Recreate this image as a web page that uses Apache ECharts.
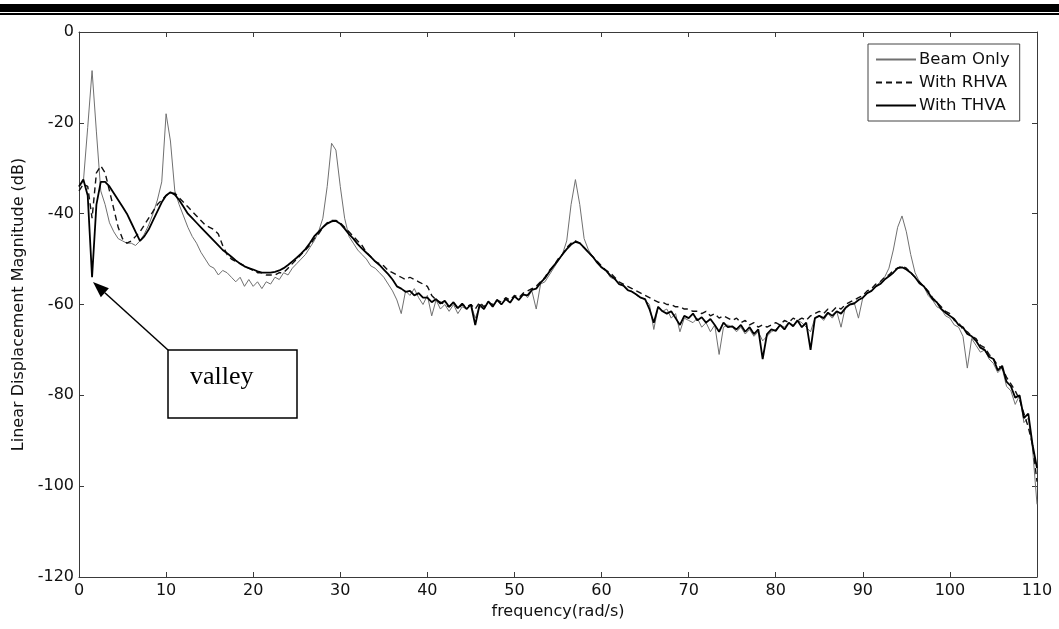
<!DOCTYPE html>
<html>
<head>
<meta charset="utf-8">
<title>Linear Displacement Magnitude</title>
<script src="https://cdn.jsdelivr.net/npm/echarts@6/dist/echarts.min.js"></script>
<style>
  html, body { margin: 0; padding: 0; background: #fff; }
  #chart { width: 1059px; height: 629px; }
</style>
</head>
<body>
<div id="chart"></div>
<script>
// sampling step of the frequency axis (rad/s); values below are read every 0.5 rad/s from 0 to 110
const STEP = 0.5

const xTicks = [0, 110, 10]      // min, max, interval
const yTicks = [-120, 0, 20]

// Beam Only (thin grey)
const beamOnly = [
  -34, -33, -21, -8.5, -22, -35, -38, -42, -44, -45.5,
  -46, -46.5, -46.5, -47, -46, -44.5, -42.5, -40, -37, -33,
  -18, -24, -35, -38, -40.5, -43, -45, -46.5, -48.5, -50,
  -51.5, -52, -53.5, -52.5, -53, -54, -55, -54, -56, -54.5,
  -56, -55, -56.5, -55, -55.5, -54, -54.5, -53, -53.5, -52,
  -51, -50, -49, -47.5, -46, -44, -41, -34, -24.5, -26,
  -34, -41, -45, -46.5, -48, -49, -50, -51.5, -52, -53,
  -54, -55.5, -57, -59, -62, -57, -58, -56.5, -58.5, -60,
  -58, -62.5, -59, -61, -60, -61.5, -60, -62, -60.5, -61,
  -60, -63, -60.5, -61, -59.5, -60.5, -59, -60, -58.5, -59.5,
  -58, -59, -57.5, -58.5, -57, -61, -55.5, -55, -53.5, -52,
  -50.5, -49, -46, -38, -32.5, -38, -45.5, -48, -49.5, -50.5,
  -52, -52.5, -54, -54.5, -55.5, -56, -57, -57, -58, -58.5,
  -59, -60, -65.5, -60.5, -61.5, -61, -63, -62, -66, -63,
  -63.5, -64, -63, -65, -64, -66, -64.5, -71, -65, -64.5,
  -65, -66, -65, -66.5, -65.5, -67, -66, -68, -67, -66,
  -65.5, -64.5, -65, -64, -64.5, -63.5, -64, -65, -66, -63,
  -62.5, -63.5, -62, -63, -61.5, -65, -60.5, -60, -59.5, -63,
  -58.5, -57.5, -57, -56, -55, -54, -52, -48, -43, -40.5,
  -44, -49, -53, -55, -56, -58, -59, -60.5, -61, -62.5,
  -63, -64.5, -65, -67, -74, -67.5, -69, -70.5, -70, -72,
  -73, -75, -74, -78, -79, -82, -80, -86, -85, -92,
  -104
]

// With RHVA (dashed)
const withRHVA = [
  -35, -33.5, -34, -41, -31, -29.5, -31, -35, -39, -43,
  -45.5, -46.5, -46, -45, -44, -42.5, -41, -39.5, -38, -37,
  -36, -35.5, -35.5, -36.5, -37.5, -38.5, -39.5, -40.5, -41.5, -42.5,
  -43, -43.5, -44.5, -47, -49, -50, -50.5, -51, -51.5, -52,
  -52.5, -53, -53, -53.5, -53.5, -53.5, -53, -53, -52, -51,
  -50, -49, -48, -47, -45.5, -44.5, -43, -42, -41.5, -41.5,
  -42, -43, -44, -45, -46, -47, -48.5, -49.5, -50.5, -51,
  -51.5, -52.5, -53, -53.5, -54, -54.5, -54, -54.5, -55, -55.5,
  -56, -58, -59, -59.5, -60, -60.5, -59.5, -61, -60, -60.5,
  -60, -61, -59.5, -60.5, -59.5, -60, -59, -59.5, -58.5, -59,
  -58, -58.5, -57.5, -57, -56.5, -56, -55, -54, -52.5, -51.5,
  -50, -49, -47.5, -46.5, -46, -46.5, -47.5, -48.5, -49.5, -50.5,
  -51.5, -52.5, -53, -54, -55, -55.5, -56, -56.5, -57, -57.5,
  -58, -58.5, -59, -59.5, -59.5, -60, -60, -60.5, -60.5, -61,
  -61, -61.5, -61.5, -62, -61.5, -62.5, -62, -63, -62.5, -63,
  -63.5, -63, -64, -63.5, -64.5, -64, -65, -64.5, -65, -64.5,
  -64, -64.5, -63.5, -64, -63, -63.5, -63, -63.5, -62.5, -62,
  -61.5, -62, -61, -61.5, -60.5, -61, -60, -59.5, -59, -58.5,
  -58, -57, -56.5, -55.5, -55, -54, -53.5, -52.5, -52, -51.5,
  -52, -53, -54, -55, -56, -57, -58.5, -59.5, -60.5, -61.5,
  -62, -63.5, -64, -65.5, -66, -67, -67.5, -69, -69.5, -71,
  -72, -73.5, -74, -76, -77.5, -79, -81, -84, -87, -91,
  -99
]

// With THVA (solid black)
const withTHVA = [
  -34, -32.5, -36, -54, -38, -33, -33, -34, -35.5, -37,
  -38.5, -40, -42, -44, -46, -45, -43.5, -41.5, -39.5, -37.5,
  -36, -35.3, -35.8, -37, -38.5, -40, -41, -42, -43, -44,
  -45, -46, -47, -48, -48.7, -49.5, -50.3, -51, -51.6, -52,
  -52.3, -52.7, -53, -53, -53, -52.8, -52.5, -52, -51.3, -50.5,
  -49.7, -48.8, -47.8, -46.5, -45, -44, -43, -42.2, -41.7, -41.6,
  -42.2, -43.3, -44.5, -45.5, -46.7, -47.7, -48.6, -49.5, -50.5, -51.3,
  -52.3, -53.3, -54.5, -56, -56.5, -57.2, -57, -58, -57.5, -58.5,
  -58.5, -59.5, -58.8, -59.8, -59.2, -60.5, -59.5, -60.8, -59.8, -61,
  -60, -64.5, -60, -61, -59.3, -60.5, -59, -60, -58.8, -59.6,
  -58.2, -59, -57.8, -58, -56.8, -56.5, -55.2, -54.2, -52.8, -51.5,
  -50.3, -49, -47.8, -46.8, -46.2, -46.5, -47.5, -48.5, -49.5, -50.8,
  -51.8, -52.5, -53.6, -54.3, -55.5, -55.8, -56.8, -57.2, -57.8, -58.5,
  -58.8, -61, -64, -60.5, -61.5, -62, -61.5, -63, -64.5, -62.5,
  -63, -62, -63.5, -62.8, -64, -63.2, -64.5, -66, -64, -65,
  -64.8, -65.5, -64.5, -66, -65, -66.5, -65.5, -72, -66.5, -65.5,
  -65.8, -64.5, -65.5, -64, -64.8, -63.5, -65, -64, -70, -63,
  -62.5, -63, -61.8, -62.5, -61.5, -62, -60.8, -60, -59.8, -59,
  -58.5, -57.5, -57, -56, -55.5, -54.5, -53.8, -53, -52, -51.8,
  -52.3, -53, -54, -55.3, -56, -57.3, -58.8, -59.5, -61, -61.8,
  -62.5, -63.2, -64.5, -65, -66.5, -67, -68, -69.5, -70, -71.5,
  -72, -74.5, -73.5, -77, -78, -80.5, -80, -85, -84, -91,
  -96
]

const seriesNames = ['Beam Only', 'With RHVA', 'With THVA']

function toPairs(values) {
  return values.map((v, i) => [i * STEP, v])
}

const FONT = "'DejaVu Sans', 'Liberation Sans', sans-serif"
const AXIS_COLOR = '#3a3a3a'

const chart = echarts.init(document.getElementById('chart'), null, { renderer: 'canvas' })

const baseAxis = {
  type: 'value',
  axisLine: { show: true, onZero: false, lineStyle: { color: AXIS_COLOR, width: 1 } },
  axisTick: { show: true, inside: true, length: 5, lineStyle: { color: AXIS_COLOR } },
  splitLine: { show: false },
  axisLabel: { color: '#111', fontSize: 16, fontFamily: FONT }
}

// arrow from the "valley" box up to the dip of the THVA curve
const arrowTail = [168, 350]
const arrowTip = [93, 282]
const dx = arrowTip[0] - arrowTail[0]
const dy = arrowTip[1] - arrowTail[1]
const len = Math.sqrt(dx * dx + dy * dy)
const ux = dx / len, uy = dy / len
const headLen = 16, headHalf = 6
const bx = arrowTip[0] - ux * headLen
const by = arrowTip[1] - uy * headLen

const option = {
  animation: false,
  backgroundColor: '#fff',
  grid: { left: 79, right: 22, top: 32, bottom: 52, containLabel: false },
  legend: {
    data: seriesNames,
    orient: 'vertical',
    left: 868,
    top: 44,
    padding: [7, 10, 7, 7],
    itemGap: 6,
    itemWidth: 40,
    itemHeight: 10,
    borderColor: '#444',
    borderWidth: 1,
    backgroundColor: '#fff',
    // hide the symbol drawn in the middle of line legend icons
    itemStyle: { opacity: 0 },
    textStyle: { color: '#111', fontSize: 16.5, fontFamily: FONT, padding: [0, 0, 0, -2] }
  },
  xAxis: [
    Object.assign({}, baseAxis, {
      position: 'bottom',
      min: xTicks[0], max: xTicks[1], interval: xTicks[2],
      name: 'frequency(rad/s)',
      nameLocation: 'middle',
      nameGap: 27,
      nameTextStyle: { color: '#111', fontSize: 16, fontFamily: FONT },
      axisLabel: Object.assign({}, baseAxis.axisLabel, { margin: 6 })
    }),
    Object.assign({}, baseAxis, {
      position: 'top',
      min: xTicks[0], max: xTicks[1], interval: xTicks[2],
      axisLabel: { show: false }
    })
  ],
  yAxis: [
    Object.assign({}, baseAxis, {
      position: 'left',
      min: yTicks[0], max: yTicks[1], interval: yTicks[2],
      name: 'Linear Displacement Magnitude (dB)',
      nameLocation: 'middle',
      nameGap: 52,
      nameTextStyle: { color: '#111', fontSize: 16, fontFamily: FONT },
      axisLabel: Object.assign({}, baseAxis.axisLabel, { margin: 5 })
    }),
    Object.assign({}, baseAxis, {
      position: 'right',
      min: yTicks[0], max: yTicks[1], interval: yTicks[2],
      axisLabel: { show: false }
    })
  ],
  series: [
    {
      name: seriesNames[0],
      type: 'line',
      data: toPairs(beamOnly),
      symbol: 'none',
      color: '#707070',
      lineStyle: { color: '#707070', width: 1 },
      z: 2
    },
    {
      name: seriesNames[1],
      type: 'line',
      data: toPairs(withRHVA),
      symbol: 'none',
      color: '#111',
      lineStyle: { color: '#111', width: 1.4, type: [6, 4] },
      z: 3
    },
    {
      name: seriesNames[2],
      type: 'line',
      data: toPairs(withTHVA),
      symbol: 'none',
      color: '#000',
      lineStyle: { color: '#000', width: 1.8 },
      z: 4
    }
  ],
  graphic: [
    // header rules of the page
    { type: 'rect', shape: { x: 0, y: 4, width: 1059, height: 8 }, style: { fill: '#000' }, silent: true },
    { type: 'rect', shape: { x: 0, y: 13, width: 1059, height: 2 }, style: { fill: '#000' }, silent: true },
    // annotation box
    {
      type: 'rect',
      shape: { x: 168, y: 350, width: 129, height: 68 },
      style: { fill: '#fff', stroke: '#000', lineWidth: 1.5 },
      z: 100
    },
    {
      type: 'text',
      left: 190,
      top: 364,
      style: { text: 'valley', fill: '#000', font: "26px 'Liberation Serif', 'Times New Roman', serif" },
      z: 101
    },
    {
      type: 'line',
      shape: { x1: arrowTail[0], y1: arrowTail[1], x2: bx, y2: by },
      style: { stroke: '#000', lineWidth: 1.5 },
      z: 100
    },
    {
      type: 'polygon',
      shape: {
        points: [
          arrowTip,
          [bx - uy * headHalf, by + ux * headHalf],
          [bx + uy * headHalf, by - ux * headHalf]
        ]
      },
      style: { fill: '#000' },
      z: 100
    }
  ]
}

chart.setOption(option)
</script>
</body>
</html>
